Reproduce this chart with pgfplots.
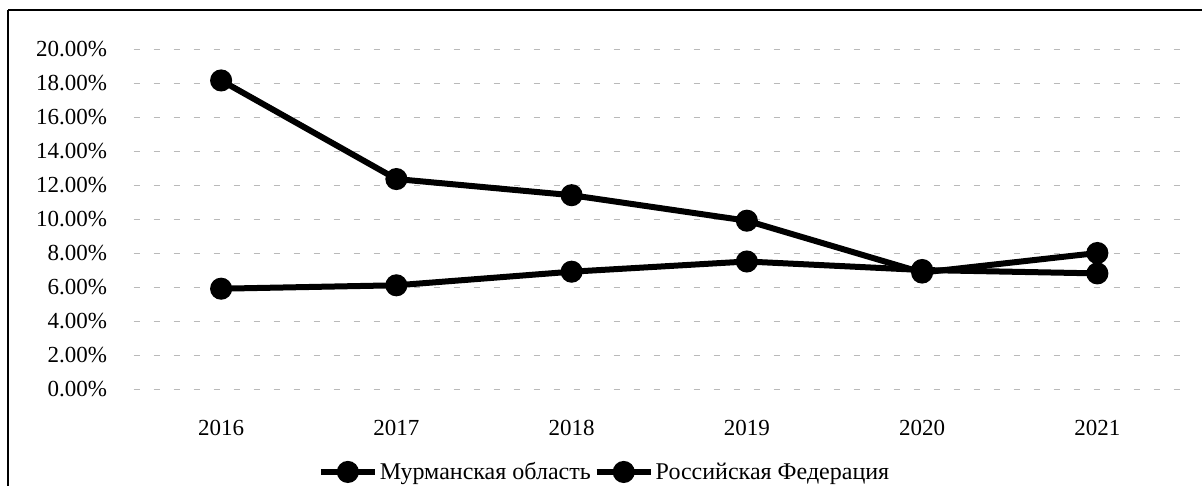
\documentclass[border=0pt]{standalone}
\usepackage{fontspec}
\setmainfont{Liberation Serif}
\usepackage{pgfplots}
\pgfplotsset{compat=1.18}
\begin{document}
\begin{tikzpicture}
\useasboundingbox (0,0) rectangle (1202pt,-486pt);
\draw[line width=2pt] (8pt,-486pt) -- (8pt,-10pt);
\draw[line width=2.5pt] (8pt,-10pt) -- (1202pt,-10pt);
\begin{axis}[
  at={(133.5pt,-389pt)}, anchor=south west,
  scale only axis, width=1051.5pt, height=340pt,
  xmin=-0.5, xmax=5.5, ymin=0, ymax=20,
  xtick={0,1,2,3,4,5},
  xticklabels={2016,2017,2018,2019,2020,2021},
  ytick={0,2,4,6,8,10,12,14,16,18,20},
  yticklabel={\pgfmathprintnumber[fixed,fixed zerofill,precision=2]{\tick}\%},
  /pgf/number format/assume math mode=true,
  axis line style={draw=none},
  major tick length=0pt,
  ymajorgrids,
  grid style={gray!55, dash pattern=on 6pt off 14pt, line width=0.8pt},
  tick label style={font=\fontsize{23}{26}\selectfont},
  yticklabel style={xshift=-23pt},
  xticklabel style={yshift=-28pt},
  legend style={at={(0.448,-0.244)}, anchor=center, draw=none, fill=none,
    font=\fontsize{24}{28}\selectfont, legend columns=2,
    /tikz/every even column/.append style={column sep=1pt},
    inner sep=0pt},
  legend image code/.code={%
    \draw[#1, mark repeat=2, mark phase=2] plot coordinates {(0pt,0pt) (27pt,0pt) (54pt,0pt)};},
]
\addplot[black, line width=6pt, mark=*, mark size=8pt, mark options={solid}]
  coordinates {(0,18.15) (1,12.35) (2,11.4) (3,9.9) (4,6.85) (5,8.0)};
\addlegendentry{Мурманская область}
\addplot[black, line width=6pt, mark=*, mark size=8pt, mark options={solid}]
  coordinates {(0,5.9) (1,6.1) (2,6.9) (3,7.5) (4,7.0) (5,6.8)};
\addlegendentry{Российская Федерация}
\end{axis}
\end{tikzpicture}
\end{document}
